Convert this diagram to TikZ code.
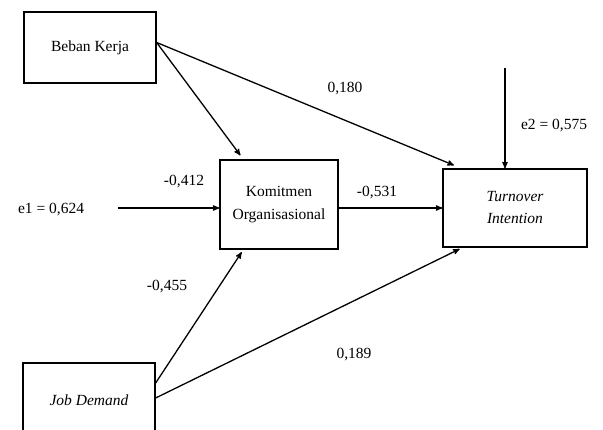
\documentclass[tikz,border=0pt]{standalone}
\usepackage{fontspec}
\setmainfont{Liberation Serif}
\usetikzlibrary{arrows,positioning}
\tikzset{
    %Define standard arrow tip
    >=stealth',
    %Define style for boxes
    varbox/.style={
           rectangle,
           draw=black, line width=1.3pt,
           font=\fontsize{15.5}{22}\selectfont,
           align=center,
           inner sep=0pt},
    coef/.style={
           font=\fontsize{15.5}{18}\selectfont,
           inner sep=0pt},
    % Define arrow style
    pil/.style={
           ->,
           line width=1.3pt}
}
\begin{document}
\begin{tikzpicture}[x=1pt,y=-1pt]
\useasboundingbox[fill=white] (0,0) rectangle (603,430);
\node[varbox, minimum width=132pt, minimum height=71pt] (beban) at (90,47.5) {Beban Kerja};
\node[varbox, minimum width=118pt, minimum height=89pt] (kom) at (279,204.5) {Komitmen\\[1pt]Organisasional};
\node[varbox, minimum width=144pt, minimum height=78pt] (turn) at (515,208) {\itshape Turnover\\\itshape Intention};
\node[varbox, minimum width=132pt, minimum height=74pt] (job) at (89,400) {\itshape Job Demand};
% error terms
\node[coef] (e1) at (51,210) {e1 = 0,624};
\coordinate (e1s) at (118,208);
\node[coef] (e2) at (554,126) {e2 = 0,575};
\coordinate (e2s) at (505,68);
% coefficients
\node[coef] (c180) at (345,89) {0,180};
\node[coef] (c412) at (184,182) {-0,412};
\node[coef] (c531) at (377,193) {-0,531};
\node[coef] (c455) at (167,287) {-0,455};
\node[coef] (c189) at (354,355) {0,189};
 \path[pil]
    ([yshift=5pt]beban.east) edge[shorten >=5pt] ([xshift=24pt]kom.north west)
    ([yshift=5pt]beban.east) edge[shorten >=8pt] ([xshift=19pt]turn.north west)
    (e1s) edge (e1s -| kom.west)
    (kom.east |- e1s) edge (turn.west |- e1s)
    (e2s) edge (e2s |- turn.north)
    ([yshift=17pt]job.east) edge[shorten >=3pt] ([xshift=24pt]kom.south west)
    ([yshift=2pt]job.east) edge[shorten >=3pt] ([xshift=20pt]turn.south west);
\end{tikzpicture}
\end{document}
